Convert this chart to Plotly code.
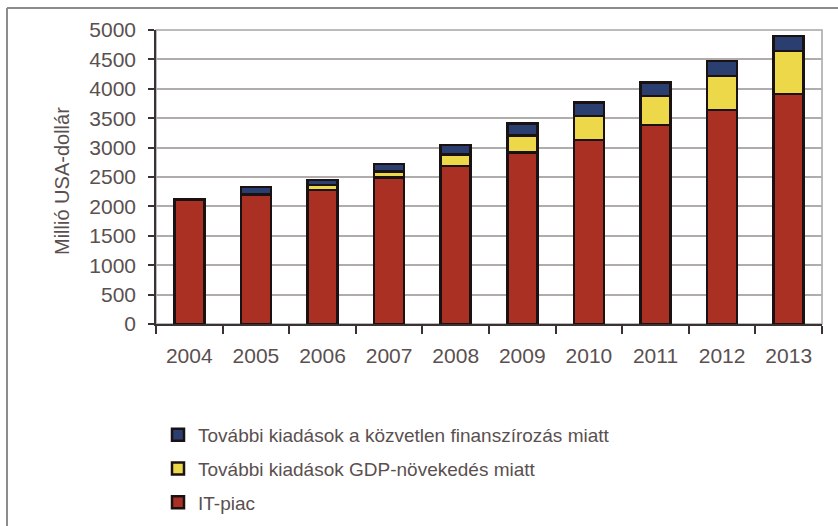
import plotly.graph_objects as go

years = ["2004", "2005", "2006", "2007", "2008", "2009", "2010", "2011", "2012", "2013"]
it_piac = [2110, 2190, 2280, 2490, 2690, 2920, 3130, 3385, 3640, 3910]
gdp_novekedes = [0, 20, 80, 100, 190, 290, 410, 490, 580, 730]
finanszirozas = [15, 120, 90, 130, 165, 200, 225, 230, 255, 260]

names = [
    "IT-piac",
    "További kiadások GDP-növekedés miatt",
    "További kiadások a közvetlen finanszírozás miatt",
]
colors = ["#A93022", "#EDD84A", "#2A3F70"]
series = [it_piac, gdp_novekedes, finanszirozas]
ranks = [3, 2, 1]
y_title = "Millió USA-dollár"

FONT = "Liberation Sans, Arial, sans-serif"
TXT = "#5a5050"

W, H = 838, 526
L, R, T, B = 156, 16, 30, 202
pw, ph = W - L - R, H - T - B

def px(x):
    return (x - L) / pw

def py(y):
    return (H - B - y) / ph

fig = go.Figure()
for n, c, s, rk in zip(names, colors, series, ranks):
    fig.add_trace(go.Bar(
        x=years, y=s, name=n, legendgroup=n, legendrank=rk,
        marker=dict(color=c, line=dict(color="#1a1212", width=2.5)),
    ))

fig.update_layout(
    width=W, height=H,
    margin=dict(l=L, r=R, t=T, b=B, autoexpand=False),
    barmode="stack", bargap=0.55,
    plot_bgcolor="white", paper_bgcolor="white",
    font=dict(family=FONT, color=TXT, size=19),
    showlegend=True,
    legend=dict(
        xref="container", yref="container",
        x=158 / W, y=1 - 416 / H, xanchor="left", yanchor="top",
        traceorder="grouped", tracegroupgap=6,
        font=dict(family=FONT, size=19, color=TXT),
        bgcolor="rgba(0,0,0,0)",
    ),
    annotations=[
        dict(text=y_title, xref="paper", yref="paper", x=px(62), y=py(181),
             xanchor="center", yanchor="middle", textangle=-90, showarrow=False,
             font=dict(family=FONT, size=20, color=TXT)),
    ],
    shapes=[
        dict(type="rect", xref="paper", yref="paper", x0=0, x1=1, y0=0, y1=1,
             line=dict(color="#a8a4a4", width=1.5), layer="below"),
        dict(type="line", xref="paper", yref="paper", x0=px(7), x1=px(840), y0=py(8), y1=py(8),
             line=dict(color="#8c8c8c", width=2)),
        dict(type="line", xref="paper", yref="paper", x0=px(7), x1=px(7), y0=py(8), y1=py(530),
             line=dict(color="#8c8c8c", width=2)),
    ],
)

fig.update_yaxes(
    range=[0, 5000], tickvals=list(range(0, 5001, 500)),
    showgrid=True, gridcolor="#b0acac", gridwidth=1.5,
    showline=True, linecolor="#3a3232", linewidth=1.5,
    ticks="outside", ticklen=6, tickcolor="#3a3232", tickwidth=1.5,
    ticklabelstandoff=8,
    tickfont=dict(family=FONT, size=21, color=TXT),
    zeroline=False,
)
fig.update_xaxes(
    showline=True, linecolor="#3a3232", linewidth=1.5,
    ticks="outside", tickson="boundaries", ticklen=8, tickcolor="#3a3232", tickwidth=1.5,
    ticklabelstandoff=12,
    tickfont=dict(family=FONT, size=21, color=TXT),
)

fig.write_html(
    "out.html",
    config={"displayModeBar": False},
    post_script="document.body.style.margin='0';document.body.style.overflow='hidden';",
)
